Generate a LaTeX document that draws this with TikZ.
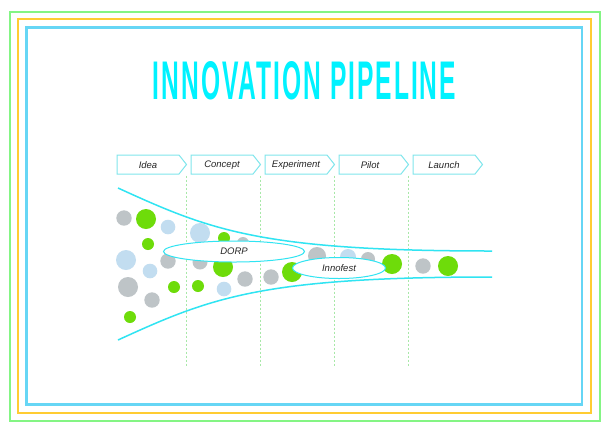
\documentclass[tikz,border=0pt]{standalone}
\usepackage{fontspec}
\setmainfont{Liberation Sans}
\newfontfamily\titlefont[LetterSpace=8]{Liberation Sans}
\usetikzlibrary{shapes.geometric}
\definecolor{frgreen}{HTML}{84F584}
\definecolor{frorange}{HTML}{FFCC33}
\definecolor{frblue}{HTML}{66D6F5}
\definecolor{titlecyan}{HTML}{00F2FF}
\definecolor{funcyan}{HTML}{30E4F2}
\definecolor{boxcyan}{HTML}{80E6EC}
\definecolor{divgreen}{HTML}{A8E8A8}
\definecolor{cgray}{HTML}{BEC4C7}
\definecolor{cblue}{HTML}{C2DDF0}
\definecolor{cgreen}{HTML}{6EDC0A}
\definecolor{labtext}{HTML}{262626}
\tikzset{
  frame/.style={line width=2pt},
  stagebox/.style={draw=boxcyan, line width=1pt, fill=white},
  stagelabel/.style={font=\fontsize{9.5}{11}\selectfont\itshape, text=labtext, inner sep=0pt},
  divider/.style={divgreen, line width=0.8pt, dash pattern=on 2pt off 2pt},
  funnel/.style={funcyan, line width=1.5pt},
  dot/.style={circle, inner sep=0pt, draw=none},
  tag/.style={ellipse, draw=funcyan, line width=1pt, fill=white, inner sep=0pt,
    minimum height=21pt, font=\fontsize{9.5}{11}\selectfont\itshape, text=labtext}
}
\begin{document}
\begin{tikzpicture}[x=1pt,y=-1pt]
\useasboundingbox (0,0) rectangle (609,432);
\fill[white] (0,0) rectangle (609,432);
% frames
\draw[frame, frgreen] (9.5,11.5) rectangle (600,420.5);
\draw[frame, frorange] (17.5,19) rectangle (591,412.5);
\draw[frame, frblue, line width=2.4pt] (26.5,27.5) rectangle (582,404.5);
% title
\node[inner sep=0pt, text=titlecyan] (title) at (304.5,81) {\resizebox{303pt}{38pt}{\titlefont\bfseries INNOVATION PIPELINE}};
% stages
\foreach \nm/\x/\txt in {idea/117/Idea, concept/191/Concept, experiment/265/Experiment, pilot/339/Pilot, launch/413/Launch}{
  \draw[stagebox] (\x,155) -- ++(62,0) -- ++(7.5,9.5) -- ++(-7.5,9.5) -- ++(-62,0) -- cycle;
  \node[stagelabel] (\nm) at (\x+31,165) {\txt};
}
% dividers
\foreach \nm/\x in {d1/186, d2/260, d3/334.5, d4/408.5}{
  \coordinate (\nm-top) at (\x,175.5);
  \coordinate (\nm-bot) at (\x,367);
  \draw[divider] (\nm-top) -- (\nm-bot);
}
% dots
\foreach \i/\x/\y/\r/\c in {
  1/124/218/7.7/cgray, 2/146/219/10/cgreen, 3/168/227/7.3/cblue, 4/200/233/10/cblue,
  5/148/244/6/cgreen, 6/224/238/6/cgreen, 7/243/243/6/cgray, 8/126/260/10/cblue,
  9/168/261/7.7/cgray, 10/200/262/7.5/cgray, 11/223/267/10/cgreen, 12/150/271/7.3/cblue,
  13/128/287/10/cgray, 14/174/287/6/cgreen, 15/198/286/6/cgreen, 16/224/289/7.3/cblue,
  17/245/279/7.7/cgray, 18/271/277/7.7/cgray, 19/292/272/10/cgreen, 20/152/300/7.7/cgray,
  21/130/317/6/cgreen, 22/317/256/9/cgray, 23/348/257/8/cblue, 24/368/259/7/cgray,
  25/392/264/10/cgreen, 26/423/266/7.7/cgray, 27/448/266/10/cgreen}{
  \node[dot, fill=\c, minimum size={2*\r pt}] (c\i) at (\x,\y) {};
}
% funnel
\coordinate (ftop-a) at (118,188);
\coordinate (ftop-b) at (492,251);
\coordinate (fbot-a) at (118,340);
\coordinate (fbot-b) at (492,277);
\draw[funnel] (ftop-a) .. controls (210,230) and (260,251) .. (ftop-b);
\draw[funnel] (fbot-a) .. controls (210,298) and (260,277) .. (fbot-b);
% tags
\node[tag, minimum width=141pt] (dorp) at (234,251.5) {DORP};
\node[tag, minimum width=93pt] (innofest) at (339,268) {Innofest};
\end{tikzpicture}
\end{document}
